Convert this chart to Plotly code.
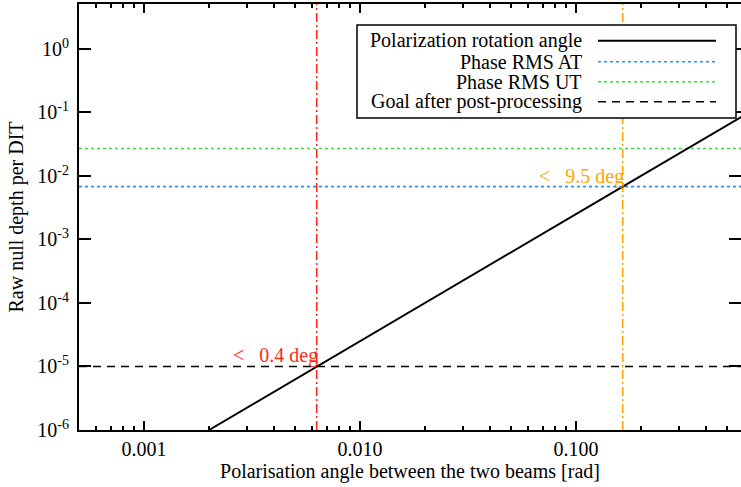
import plotly.graph_objects as go
import numpy as np

# ---- data ----
angle_rad = [0.002, 0.0063, 0.1644, 0.6]
null_depth = [1e-6, 1e-5, 0.0068, 0.09]

phase_rms_at = 0.0068
phase_rms_ut = 0.027
goal_null = 1e-5

angle_goal = 0.0063   # 0.4 deg
angle_at = 0.1644     # 9.5 deg
label_goal = "<&nbsp;&nbsp;&nbsp;0.4 deg"
label_at = "<&nbsp;&nbsp;&nbsp;9.5 deg"

x_range = [0.0005, 0.58]
y_range = [1e-6, 5.1]

x_major = [0.001, 0.01, 0.1]
x_major_text = ["0.001", "0.010", "0.100"]
x_minor = [m * d for d in [0.0001, 0.001, 0.01, 0.1] for m in range(2, 10)]
y_major = [1e-6, 1e-5, 1e-4, 1e-3, 1e-2, 1e-1, 1e0]
y_major_text = ["10<sup>-6</sup>", "10<sup>-5</sup>", "10<sup>-4</sup>", "10<sup>-3</sup>",
                "10<sup>-2</sup>", "10<sup>-1</sup>", "10<sup>0</sup>"]

legend_names = ["Polarization rotation angle", "Phase RMS AT", "Phase RMS UT",
                "Goal after post-processing"]
legend_styles = [("black", "solid", 2), ("#1E90FF", "dot", 1.6), ("#22EE22", "dot", 1.6),
                 ("black", "8px,6px", 1.6)]

FONT = "Liberation Serif, Times New Roman, serif"
FS = 20
RED = "#FF2A1A"
ORANGE = "#FFA500"

fig = go.Figure()

# horizontal reference lines
fig.add_trace(go.Scatter(x=x_range, y=[phase_rms_ut] * 2, mode="lines",
                         line=dict(color="#22EE22", dash="dot", width=1.6), name=legend_names[2],
                         showlegend=False))
fig.add_trace(go.Scatter(x=x_range, y=[phase_rms_at] * 2, mode="lines",
                         line=dict(color="#1E90FF", dash="dot", width=1.6), name=legend_names[1],
                         showlegend=False))
fig.add_trace(go.Scatter(x=x_range, y=[goal_null] * 2, mode="lines",
                         line=dict(color="black", dash="8px,6px", width=1.6), name=legend_names[3],
                         showlegend=False))
# vertical lines
fig.add_trace(go.Scatter(x=[angle_goal] * 2, y=y_range, mode="lines",
                         line=dict(color=RED, dash="9px,3px,2px,3px", width=1.6), showlegend=False))
fig.add_trace(go.Scatter(x=[angle_at] * 2, y=y_range, mode="lines",
                         line=dict(color=ORANGE, dash="9px,3px,2px,3px", width=1.6), showlegend=False))
# main line
fig.add_trace(go.Scatter(x=angle_rad, y=null_depth, mode="lines",
                         line=dict(color="black", width=2), name=legend_names[0], showlegend=False))
# invisible trace for right-side ticks axis
fig.add_trace(go.Scatter(x=[x_range[0]], y=[y_range[0]], yaxis="y2", mode="markers",
                         marker=dict(opacity=0), showlegend=False, hoverinfo="skip"))

fig.add_annotation(x=np.log10(angle_goal), y=np.log10(goal_null), text=label_goal,
                   showarrow=False, xanchor="right", yanchor="bottom", xshift=3, yshift=-3,
                   font=dict(family=FONT, size=FS, color=RED))
fig.add_annotation(x=np.log10(angle_at), y=np.log10(phase_rms_at), text=label_at,
                   showarrow=False, xanchor="right", yanchor="bottom", xshift=3, yshift=-3,
                   font=dict(family=FONT, size=FS, color=ORANGE))

# manual legend (text right-aligned, sample on the right)
W, H, L, T = 741, 487, 79, 4
PW, PH = W - L, 430 - T


def px(xp):
    return (xp - L) / PW


def py(yp):
    return (430 - yp) / PH


fig.add_shape(type="rect", xref="paper", yref="paper", x0=px(357), x1=px(736), y0=py(118), y1=py(25),
              line=dict(color="black", width=1.5), fillcolor="white", layer="above")
rows = [40.7, 61.7, 81.7, 101.7]
for name, (col, dash, w), r in zip(legend_names, legend_styles, rows):
    fig.add_annotation(xref="paper", yref="paper", x=px(584), y=py(r), text=name, showarrow=False,
                       xanchor="right", yanchor="middle", font=dict(family=FONT, size=FS, color="black"))
    fig.add_shape(type="line", xref="paper", yref="paper", x0=px(598), x1=px(716), y0=py(r), y1=py(r),
                  line=dict(color=col, dash=dash, width=w), layer="above")

fig.update_layout(
    width=W, height=H,
    margin=dict(l=L, r=0, t=T, b=H - 430),
    paper_bgcolor="white", plot_bgcolor="white",
    font=dict(family=FONT, size=FS, color="black"),
    showlegend=False,
    xaxis=dict(type="log", range=[np.log10(x_range[0]), np.log10(x_range[1])],
               showgrid=False, zeroline=False, showline=True, linecolor="black", linewidth=2,
               mirror="ticks", ticks="inside", ticklen=9, tickwidth=1.5, tickcolor="black",
               tickvals=x_major, ticktext=x_major_text, tickfont=dict(family=FONT, size=FS),
               minor=dict(ticks="inside", ticklen=4, tickwidth=1.5, tickcolor="black",
                          tickmode="array", tickvals=x_minor, showgrid=False),
               title=dict(text="Polarisation angle between the two beams [rad]",
                          font=dict(family=FONT, size=FS), standoff=4)),
    yaxis=dict(type="log", range=[np.log10(y_range[0]), np.log10(y_range[1])],
               showgrid=False, zeroline=False, showline=True, linecolor="black", linewidth=2,
               ticks="inside", ticklen=12, tickwidth=1.5, tickcolor="black",
               tickvals=y_major, ticktext=y_major_text, ticklabelstandoff=4,
               tickfont=dict(family=FONT, size=FS),
               title=dict(text="Raw null depth per DIT", font=dict(family=FONT, size=FS), standoff=8)),
    yaxis2=dict(type="log", range=[np.log10(y_range[0]), np.log10(y_range[1])], overlaying="y",
                side="right", showgrid=False, zeroline=False, showline=False,
                ticks="inside", ticklen=12, tickwidth=1.5, tickcolor="black",
                tickvals=y_major, showticklabels=False),
)

fig.write_html("out.html")
